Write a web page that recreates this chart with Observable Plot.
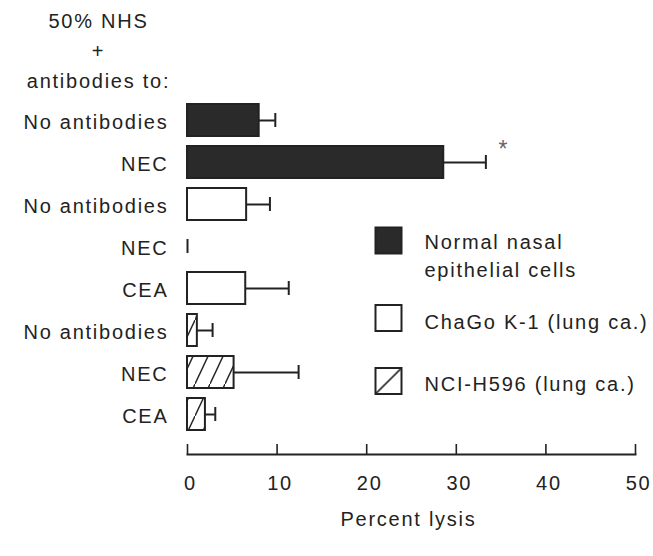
<!DOCTYPE html>
<html>
<head>
<meta charset="utf-8">
<script src="https://cdn.jsdelivr.net/npm/d3@7"></script>
<script src="https://cdn.jsdelivr.net/npm/@observablehq/plot@0.6"></script>
<style>
  body { margin: 0; background: #fff; }
</style>
</head>
<body>
<div id="chart"></div>
<script>
// ---- data ----
const rowLabels = ["No antibodies", "NEC", "No antibodies", "NEC", "CEA", "No antibodies", "NEC", "CEA"];
const rowGroups = ["normal", "normal", "chago", "chago", "chago", "nci", "nci", "nci"];
const lysisMean = [8.0, 28.6, 6.6, 0, 6.5, 1.1, 5.2, 2.0];
const lysisUpper = [9.8, 33.3, 9.2, 0, 11.3, 2.8, 12.4, 3.1];
const significantRows = [1];
const xTicks = [0, 10, 20, 30, 40, 50];
const legendLabels = ["Normal nasal\nepithelial cells", "ChaGo K-1 (lung ca.)", "NCI-H596 (lung ca.)"];
const titleText = "50% NHS\n+\nantibodies to:";
const xLabel = "Percent lysis";

const rows = rowLabels.map((label, i) => ({
  i, label, group: rowGroups[i], value: lysisMean[i], upper: lysisUpper[i]
}));

const ink = "#222";
const dark = "#2a2a2a";
const fs = 20;
const fills = { normal: dark, chago: "#fff", nci: "url(#hatch)" };
const legendFills = [dark, "#fff", "url(#hatchLegend)"];

const chart = Plot.plot({
  width: 653,
  height: 556,
  marginLeft: 187,
  marginRight: 18,
  marginTop: 97,
  marginBottom: 102,
  style: {
    fontFamily: "'Liberation Sans', Arial, sans-serif",
    fontSize: fs + "px",
    letterSpacing: "1.75px",
    color: ink,
    background: "#fff"
  },
  x: { domain: [0, 50], axis: null },
  y: { domain: d3.range(rowLabels.length), paddingInner: 0.25, paddingOuter: 0.117, insetBottom: 17, axis: null },
  marks: [
    // bars
    ...Object.keys(fills).map(g =>
      Plot.barX(rows.filter(d => d.group === g && d.value > 0), {
        x: "value", y: "i", fill: fills[g], stroke: ink, strokeWidth: 2
      })
    ),
    // error bars
    Plot.ruleY(rows.filter(d => d.upper > d.value), { y: "i", x1: "value", x2: "upper", stroke: ink, strokeWidth: 2 }),
    Plot.tickX(rows, { x: "upper", y: "i", stroke: ink, strokeWidth: 2, insetTop: 9, insetBottom: 9 }),
    // significance marker
    Plot.text(rows.filter(d => significantRows.includes(d.i)), {
      x: "upper", y: "i", text: () => "*", dx: 18, dy: -13, fontSize: 23, fill: "#666", letterSpacing: "0px"
    }),
    // y axis labels
    Plot.axisY({ label: null, tickSize: 0, tickPadding: 19, tickFormat: i => rowLabels[i], dy: 2, fontSize: fs }),
    // x axis
    Plot.frame({ anchor: "bottom", stroke: ink, strokeWidth: 2 }),
    Plot.tickX(xTicks, { x: d => d, stroke: ink, strokeWidth: 1.6, insetTop: 347 }),
    Plot.axisX({ label: null, ticks: xTicks, tickSize: 0, tickPadding: 21, dx: 3, fontSize: fs }),
    Plot.text([xLabel], { frameAnchor: "bottom", lineAnchor: "middle", dy: 65, dx: -3, text: d => d, fontSize: fs, fill: ink }),
    // title
    Plot.text([titleText], { frameAnchor: "top-left", lineAnchor: "middle", dx: -89, dy: -49, text: d => d, textAnchor: "middle", lineHeight: 1.5, fontSize: fs, fill: ink }),
    // legend swatches
    ...legendFills.map((f, k) =>
      Plot.dot([k], { frameAnchor: "top-left", dx: 201, dy: [143, 220.5, 283.5][k], symbol: "square", r: 14.67, fill: f, stroke: ink, strokeWidth: 2 })
    ),
    // legend labels
    ...legendLabels.map((t, k) =>
      Plot.text([t], { frameAnchor: "top-left", lineAnchor: "middle", dx: 237, dy: [157, 223, 285][k], text: d => d, textAnchor: "start", lineHeight: 1.4, fontSize: fs, fill: ink })
    )
  ]
});

// hatch patterns
const svg = d3.select(chart);
const defs = svg.insert("defs", ":first-child");
const p = defs.append("pattern")
  .attr("id", "hatch").attr("patternUnits", "userSpaceOnUse")
  .attr("width", 15).attr("height", 32);
p.append("rect").attr("width", 15).attr("height", 32).attr("fill", "#fff");
p.append("path").attr("d", "M-1,34.13L16,-2.13").attr("stroke", ink).attr("stroke-width", 1.4).attr("fill", "none");
const pl = defs.append("pattern")
  .attr("id", "hatchLegend").attr("patternUnits", "objectBoundingBox").attr("patternContentUnits", "objectBoundingBox")
  .attr("width", 1).attr("height", 1);
pl.append("rect").attr("width", 1).attr("height", 1).attr("fill", "#fff");
pl.append("path").attr("d", "M0,1L1,0").attr("stroke", ink).attr("stroke-width", 0.06).attr("fill", "none");

document.getElementById("chart").appendChild(chart);
</script>
</body>
</html>
